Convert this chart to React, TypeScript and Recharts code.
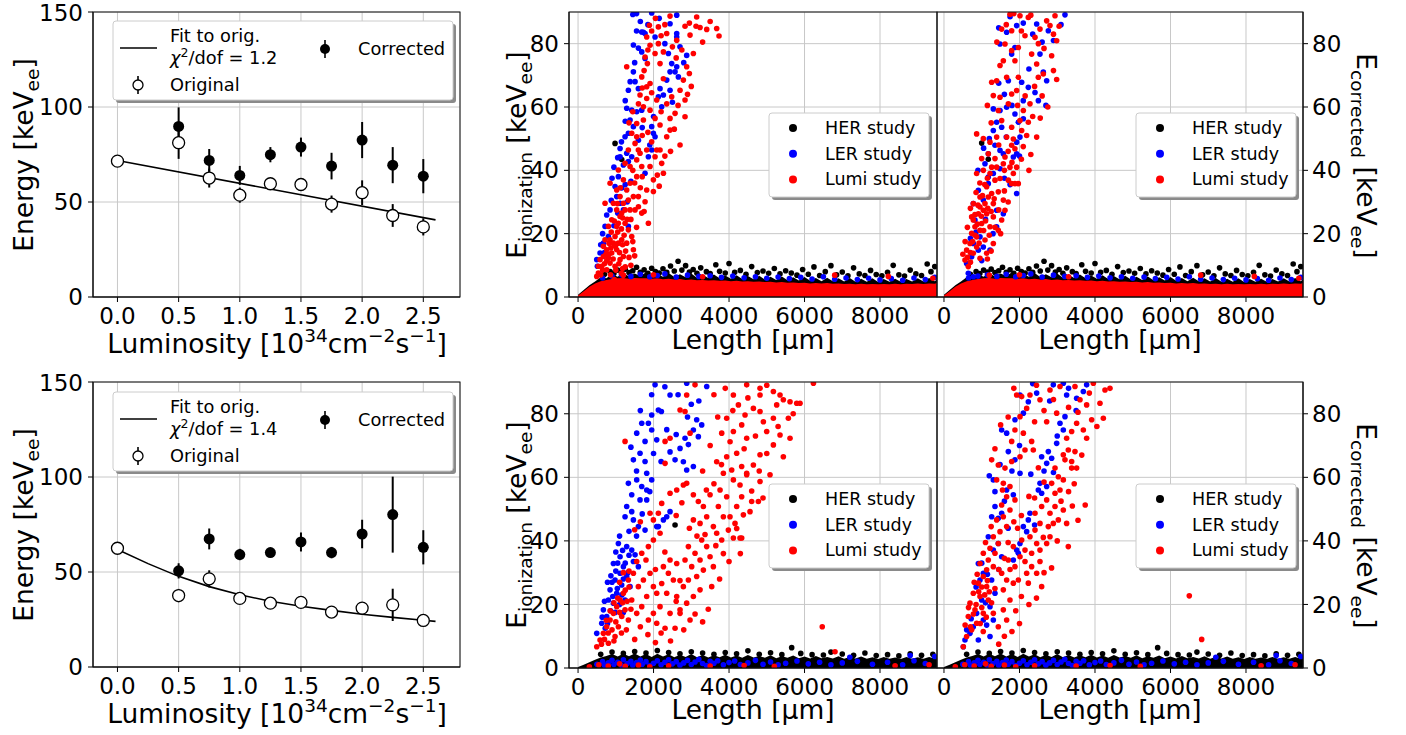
import React from "react";
import {
  ComposedChart,
  Scatter,
  Line,
  Area,
  XAxis,
  YAxis,
  CartesianGrid,
  ErrorBar,
} from "recharts";

type P = [number, number];

const FONT = "DejaVu Sans, Verdana, sans-serif";
const GRID = "#c8c8c8";
const HER = "#000000";
const LER = "#0000ff";
const LUMI = "#ff0000";

// ---- luminosity scan (left panels) ----
const lumiSteps = [0, 0.5, 0.75, 1.0, 1.25, 1.5, 1.75, 2.0, 2.25, 2.5];
const lumiTicks = [0, 0.5, 1.0, 1.5, 2.0, 2.5];
const energyTicksLeft = [0, 50, 100, 150];

const topOrig = [71.5, 81.2, 62.6, 53.6, 59.6, 59.2, 48.9, 54.9, 42.9, 36.9];
const topOrigErr = [0.8, 8.5, 5, 4, 3, 3, 4.5, 6.5, 6, 4.5];
const topCorr = [89.8, 71.9, 64.0, 74.9, 78.9, 68.9, 82.6, 69.4, 63.6];
const topCorrErr = [10, 6, 5, 4, 5, 7, 9.5, 9.5, 9];
const topFit: P[] = [[0, 71.8], [2.6, 40.6]];

const botOrig = [62.5, 37.6, 46.4, 36.1, 33.6, 34.0, 28.9, 31.0, 32.7, 24.5];
const botOrigErr = [0.8, 3.5, 4.5, 2, 1.5, 2, 2, 3, 8.5, 2];
const botCorr = [50.6, 67.4, 59.2, 60.2, 65.8, 60.2, 70.0, 80.2, 63.0];
const botCorrErr = [4, 5.5, 3, 2.5, 5, 3, 7.5, 20, 9];
const botFit: P[] = [
  [0, 61.8], [0.25, 54.4], [0.5, 47.7], [0.75, 42.3], [1.0, 38.0], [1.25, 34.6],
  [1.5, 32.0], [1.75, 29.8], [2.0, 27.8], [2.25, 26.1], [2.5, 24.6], [2.6, 24.0],
];

// ---- track length vs energy (scatter panels) ----
const lengthTicks = [0, 2000, 4000, 6000, 8000];
const energyTicks = [0, 20, 40, 60, 80];

// dense low-energy band: ragged upper edge of the packed point clouds
const bandX = [
  0, 150, 300, 450, 600, 750, 900, 1050, 1200, 1350, 1500, 1650, 1800, 1950, 2100, 2250, 2400, 2550, 2700, 2850,
  3000, 3150, 3300, 3450, 3600, 3750, 3900, 4050, 4200, 4350, 4500, 4650, 4800, 4950, 5100, 5250, 5400, 5550, 5700, 5850,
  6000, 6150, 6300, 6450, 6600, 6750, 6900, 7050, 7200, 7350, 7500, 7650, 7800, 7950, 8100, 8250, 8400, 8550, 8700, 8850,
  9000, 9150, 9300, 9450, 9510,
];
const topBandHer = [
  0.7, 2.2, 3.7, 4.9, 6.2, 5.9, 7.2, 6.4, 7.6, 6.5, 7.4, 6.6, 7.8, 6.5, 7.3, 6.4, 7.6, 6.3, 7.2, 6.2,
  7.4, 6.1, 7.0, 6.0, 7.1, 5.9, 6.8, 5.8, 6.9, 5.7, 6.6, 5.6, 6.7, 5.5, 6.4, 5.4, 6.5, 5.3, 6.2, 5.2,
  6.3, 5.1, 6.0, 5.0, 6.1, 5.0, 5.9, 4.9, 6.0, 4.8, 5.8, 4.8, 5.9, 4.7, 5.7, 4.8, 5.8, 4.8, 5.7, 4.9,
  5.9, 4.9, 6.0, 5.0, 5.6,
];
const topBandLumi = [
  0.5, 1.8, 3.2, 4.3, 5.0, 5.4, 5.7, 5.9, 6.0, 5.8, 6.0, 5.9, 5.9, 5.8, 5.9, 5.6, 5.8, 5.5, 5.7, 5.4,
  5.5, 5.3, 5.4, 5.2, 5.3, 5.1, 5.2, 5.0, 5.1, 4.9, 5.0, 4.8, 4.9, 4.7, 4.8, 4.6, 4.7, 4.5, 4.6, 4.4,
  4.5, 4.3, 4.4, 4.3, 4.4, 4.2, 4.3, 4.1, 4.2, 4.0, 4.2, 4.0, 4.1, 4.0, 4.1, 4.0, 4.2, 4.0, 4.2, 4.1,
  4.3, 4.1, 4.3, 4.2, 4.4,
];
const botBandHer = [
  0.3, 1.0, 1.8, 2.6, 3.3, 3.8, 4.4, 3.6, 4.5, 3.7, 4.6, 3.6, 4.4, 3.5, 4.5, 3.6, 4.3, 3.4, 4.2, 3.5,
  4.4, 3.4, 4.1, 3.3, 4.0, 3.4, 4.2, 3.3, 3.9, 3.2, 4.1, 3.3, 3.8, 3.2, 4.0, 3.1, 3.7, 3.2, 3.9, 3.1,
  3.6, 3.0, 3.8, 3.1, 3.5, 3.0, 3.7, 2.9, 3.5, 3.0, 3.6, 2.9, 3.4, 2.8, 3.5, 2.9, 3.3, 2.8, 3.5, 2.9,
  3.4, 2.9, 3.5, 3.0, 3.3,
];

const topFringeHer: P[] = [
  [700, 7.2], [850, 8.0], [950, 7.4], [1050, 8.5], [1150, 7.9], [1250, 8.8], [1350, 7.7], [1450, 8.3],
  [1550, 9.4], [1650, 7.8], [1750, 8.6], [1850, 7.5], [1950, 9.1], [2050, 8.0], [2150, 7.6], [2250, 8.9],
  [2350, 7.8], [2450, 9.8], [2550, 8.2], [2650, 11.3], [2750, 8.5], [2850, 9.9], [2950, 7.9], [3050, 8.7],
  [3150, 7.5], [3250, 9.2], [3400, 8.0], [3500, 7.4], [3650, 10.2], [3750, 8.1], [3900, 7.6], [4000, 10.6],
  [4150, 7.8], [4300, 8.4], [4450, 7.2], [4600, 9.6], [4750, 7.7], [4900, 8.2], [5050, 7.5], [5200, 9.0],
  [5350, 7.3], [5500, 8.3], [5650, 7.6], [5800, 6.9], [5950, 8.7], [6100, 7.2], [6250, 9.5], [6400, 6.8],
  [6550, 8.0], [6700, 9.9], [6850, 7.0], [7000, 7.9], [7150, 6.7], [7300, 9.2], [7450, 7.3], [7600, 6.8],
  [7750, 8.4], [7900, 7.1], [8050, 6.7], [8200, 7.8], [8350, 10.0], [8500, 7.0], [8650, 6.6], [8800, 8.5],
  [8950, 7.3], [9100, 6.8], [9250, 10.4], [9350, 8.0], [9450, 9.6],
];
const topFringeLer: P[] = [
  [650, 6.0], [900, 6.6], [1150, 7.0], [1400, 6.5], [1650, 7.2], [1900, 6.4], [2100, 6.8], [2300, 7.3],
  [2600, 6.3], [2900, 6.9], [3200, 6.5], [3500, 6.7], [3800, 6.2], [4100, 6.6], [4400, 6.1], [4700, 6.4],
  [5000, 5.9], [5300, 6.3], [5600, 5.8], [5900, 6.2], [6200, 5.7], [6500, 6.4], [6800, 5.6], [7100, 6.0],
  [7400, 5.5], [7700, 5.9], [8000, 5.4], [8300, 5.8], [8600, 5.3], [8900, 6.0], [9200, 5.5], [9450, 6.2],
];
const topFringeLumi: P[] = [[1200, 6.9], [2000, 7.0], [3300, 6.4], [6800, 6.9], [8220, 6.5], [9400, 5.9]];

const botFringeHer: P[] = [
  [600, 4.3], [900, 5.0], [1200, 4.6], [1500, 5.2], [1800, 4.7], [2100, 5.5], [2400, 4.9], [2700, 4.5],
  [3000, 5.1], [3300, 4.7], [3600, 4.3], [3900, 4.9], [4200, 4.5], [4500, 5.4], [4800, 4.3], [5100, 4.8],
  [5400, 4.2], [5660, 6.4], [5900, 4.6], [6200, 4.2], [6500, 4.1], [6700, 5.0], [7000, 4.4], [7300, 4.0],
  [7600, 4.7], [7900, 3.9], [8200, 4.2], [8500, 3.8], [8800, 4.5], [9100, 4.0], [9400, 4.3],
];
const botFringeLer: P[] = [
  [500, 1.2], [650, 2.0], [700, 0.9], [800, 1.6], [900, 2.4], [950, 1.1], [1050, 1.8], [1150, 0.8],
  [1200, 2.6], [1300, 1.4], [1400, 2.1], [1450, 0.9], [1550, 1.7], [1650, 2.5], [1700, 1.2], [1800, 2.0],
  [1900, 0.8], [2000, 1.5], [2100, 2.3], [2200, 1.0], [2300, 1.8], [2400, 2.6], [2500, 1.3], [2600, 2.0],
  [2700, 0.9], [2800, 1.6], [2900, 2.4], [3000, 1.1], [3100, 1.9], [3200, 2.7], [3300, 1.4], [3400, 0.8],
  [3500, 2.1], [3600, 1.5], [3700, 2.3], [3850, 1.0], [4000, 1.7], [4150, 2.2], [4300, 1.1], [4500, 1.6],
  [4700, 2.4], [4900, 1.2], [5100, 1.9], [5300, 1.0], [5500, 1.5], [5800, 2.2], [6100, 1.3], [6400, 1.8],
  [6700, 1.0], [7000, 1.6], [7200, 3.4], [7400, 2.1], [7800, 1.2], [8200, 1.8], [8600, 1.0], [8800, 3.9],
  [8900, 2.3], [9200, 1.4], [9450, 3.6],
];
const botFringeLumi: P[] = [
  [300, 0.4], [550, 1.0], [800, 0.6], [1100, 1.3], [1250, 0.5], [1600, 0.9], [1900, 0.4], [2400, 0.7],
  [3500, 0.6], [4400, 0.8], [5200, 0.5], [8400, 0.7], [9300, 1.0],
];

// top middle: E_ionization, first study set
const tmHer: P[] = [[980, 48.5], [1157, 43.4]];
const tmLer: P[] = [
  [1686, 83.7], [1775, 83.2], [1951, 89.7], [2437, 86.3], [2614, 89.0], [2614, 83.2], [2878, 76.3], [2614, 82.1],
  [1466, 79.6], [1598, 78.6], [1687, 77.4], [1775, 75.3], [2040, 82.1], [2393, 76.9], [2481, 73.7], [2614, 72.7],
  [2570, 71.1], [2658, 69.5], [2437, 71.1], [1466, 71.1], [1510, 68.0], [1598, 65.8], [1333, 65.3], [2172, 65.8],
  [2261, 63.8], [2437, 65.3], [2128, 63.2], [1289, 59.6], [1422, 59.0], [1554, 58.5], [1687, 59.0], [1378, 55.9],
  [1466, 53.8], [1333, 51.7], [1245, 50.6], [1996, 51.7], [2040, 50.6], [1951, 53.8], [2216, 60.1], [1113, 46.9],
  [1289, 45.4], [1422, 44.3], [1333, 42.8], [1201, 41.7], [1863, 44.3], [1951, 46.4], [1068, 38.0], [980, 34.9],
  [1157, 34.4], [1024, 31.7], [1113, 29.6], [1201, 27.5], [848, 27.5], [759, 25.9], [715, 22.3], [1333, 22.3],
  [804, 19.1], [671, 17.0], [583, 13.9], [495, 11.8], [512, 9.7], [1775, 39.1], [1113, 44.3], [1450, 89.2],
  [1550, 89.5], [1731, 83.6], [1250, 62.0], [1380, 68.0], [1500, 74.0], [1550, 84.0], [1650, 87.0], [1850, 86.0],
  [2150, 88.0], [2300, 80.0], [2350, 68.5], [2700, 79.0], [2800, 74.0], [2500, 61.5], [2000, 57.0], [1900, 48.0],
  [1600, 49.5], [1700, 53.5], [1250, 55.5], [1150, 49.0], [1050, 44.0], [950, 41.0], [900, 37.5], [1250, 35.5],
  [1300, 30.0], [1050, 26.5], [950, 22.5], [880, 30.5], [650, 20.0], [600, 16.5], [700, 14.0], [1400, 36.5],
];
const tmLumi: P[] = [
  [1890, 85.8], [2128, 85.3], [2349, 83.2], [2437, 88.7], [2834, 85.5], [2967, 82.7], [3126, 85.5], [3232, 85.1],
  [3409, 84.5], [3673, 84.8], [3735, 82.4], [3143, 88.4], [1775, 75.8], [1907, 79.5], [2040, 76.9], [2172, 73.7],
  [1837, 73.7], [1687, 69.5], [1907, 67.4], [2878, 72.7], [2949, 70.6], [3055, 76.9], [2790, 68.5], [2834, 62.2],
  [2481, 63.2], [2702, 65.3], [2261, 68.9], [1819, 62.7], [1907, 59.0], [1731, 55.9], [2040, 56.4], [2172, 54.3],
  [2437, 56.4], [2570, 58.0], [2834, 56.9], [2349, 50.6], [2437, 52.7], [2702, 48.0], [2172, 46.4], [2216, 42.2],
  [2040, 44.3], [1510, 48.5], [1642, 45.4], [1907, 41.2], [2261, 39.1], [1996, 37.0], [1819, 33.8], [1996, 33.3],
  [1775, 30.1], [1598, 31.7], [1687, 26.5], [1863, 23.3], [1510, 27.5], [1378, 35.9], [1245, 42.2], [1289, 33.8],
  [1201, 29.6], [1113, 31.7], [1024, 27.5], [848, 35.9], [715, 29.6], [892, 24.4], [1024, 22.3], [1245, 23.3],
  [1422, 19.1], [1466, 14.9], [1333, 21.2], [1157, 18.1], [936, 17.0], [759, 14.9], [671, 12.8], [848, 10.7],
  [1024, 14.9], [1201, 12.8], [627, 9.7], [539, 7.6], [759, 8.6], [980, 9.7], [1378, 27.5], [1113, 25.4],
  [1201, 37.0], [1068, 40.1], [1554, 43.3], [1422, 51.7], [1554, 54.8], [1731, 60.1], [1642, 63.8], [1819, 66.4],
  [2084, 62.2], [2128, 80.0], [2261, 77.4], [2614, 81.1], [1819, 82.1], [1289, 72.7], [1024, 33.8], [936, 29.6],
  [1333, 46.4], [1687, 41.2], [1819, 46.4], [2084, 46.4], [804, 22.3], [715, 18.1], [848, 18.1], [980, 19.1],
  [1068, 17.0], [892, 13.9], [671, 16.0], [583, 11.8], [804, 12.3], [1113, 11.8], [1289, 17.0], [1157, 26.5],
  [1068, 23.3], [1245, 27.5], [1333, 30.6], [1466, 31.7], [1554, 38.0], [1378, 41.2], [1598, 46.4], [1554, 50.6],
  [539, 9.7], [495, 6.5], [700, 10.5], [760, 11.5], [820, 13.5], [870, 15.5], [930, 12.0], [990, 16.0],
  [1050, 20.5], [1100, 14.0], [1150, 21.5], [1180, 16.5], [1220, 19.5], [1260, 14.5], [1300, 24.5], [960, 24.0],
  [1040, 29.5], [1120, 34.5], [1180, 25.0], [880, 20.5], [820, 17.0], [740, 13.5], [650, 8.5], [600, 7.0],
  [1000, 8.5], [1080, 10.5], [1180, 9.0], [1350, 55.0], [1450, 58.5], [1600, 61.0], [1700, 66.0], [1750, 71.5],
  [1850, 78.0], [1950, 84.0], [2050, 88.0], [2200, 82.5], [2300, 86.0], [2500, 79.0], [2600, 75.5], [2750, 78.0],
  [2950, 86.5], [3300, 80.5], [3500, 87.0], [2350, 61.0], [2550, 53.0], [2650, 60.5], [2900, 64.0], [3000, 66.5],
  [2200, 58.5], [1950, 64.5], [1700, 51.0], [1850, 52.0], [1950, 49.0], [2300, 44.5], [2450, 46.0], [2100, 38.5],
  [2150, 35.0], [1700, 38.0], [1650, 34.5], [1500, 36.0], [1450, 40.0], [1400, 24.5], [1550, 22.0], [1600, 28.5],
  [1750, 27.0], [1450, 17.5], [1350, 12.5], [1250, 9.5], [1150, 7.5], [1400, 10.0], [960, 5.5], [860, 7.0],
  [1500, 13.0],
];

// top right: E_corrected, first study set
const trHer: P[] = [[998, 48.6], [1174, 43.5]];
const trLer: P[] = [
  [1660, 83.6], [1925, 85.7], [2455, 86.2], [2764, 84.1], [3205, 89.1], [1484, 79.9], [1793, 76.7], [1880, 78.8],
  [2543, 76.7], [2631, 71.0], [2720, 68.3], [1705, 68.3], [2058, 67.8], [2234, 66.2], [2411, 64.6], [1307, 59.4],
  [1484, 58.9], [1660, 59.9], [1880, 57.8], [1969, 55.2], [2102, 56.3], [1395, 55.2], [1528, 53.6], [1307, 52.6],
  [1925, 48.9], [2013, 50.5], [1351, 47.9], [1484, 46.3], [1572, 45.2], [1837, 44.2], [1925, 45.2], [1174, 45.2],
  [1086, 42.1], [1174, 37.9], [1307, 39.0], [1484, 40.5], [1925, 32.7], [1174, 35.8], [910, 33.7], [777, 29.5],
  [1042, 30.6], [1395, 27.4], [1572, 26.3], [1395, 22.2], [821, 24.3], [954, 19.0], [777, 16.9], [1042, 15.8],
  [733, 12.7], [600, 10.6], [644, 7.5], [777, 6.4], [910, 14.8], [1219, 14.8], [1450, 85.0], [1750, 88.5],
  [2100, 86.5], [2350, 83.0], [2600, 80.5], [2900, 81.0], [3100, 86.0], [2250, 72.0], [2500, 62.0], [2700, 60.5],
  [2100, 62.0], [1800, 60.5], [1600, 64.0], [1450, 67.5], [1200, 50.0], [1650, 50.5], [2000, 44.5], [1750, 35.5],
  [1600, 37.5], [1050, 47.0], [900, 40.0], [1100, 24.5], [1300, 20.0], [850, 20.5], [700, 18.5], [1000, 11.5],
];
const trLumi: P[] = [
  [1748, 89.3], [2013, 88.8], [2234, 88.3], [1528, 84.6], [1793, 84.1], [2146, 82.5], [2411, 82.0], [2720, 87.2],
  [2808, 85.7], [2941, 88.8], [2543, 84.6], [2985, 80.9], [1616, 79.9], [1793, 77.8], [1969, 78.8], [1880, 74.6],
  [1572, 74.6], [1484, 73.1], [1660, 69.4], [1969, 69.4], [1395, 68.3], [1263, 67.8], [2322, 76.7], [2455, 73.6],
  [2499, 69.4], [2631, 70.4], [2852, 76.2], [2985, 68.7], [1307, 63.6], [1484, 63.1], [1793, 64.1], [1925, 65.2],
  [2278, 61.0], [2102, 58.9], [1705, 61.0], [1439, 58.9], [1528, 55.7], [2013, 55.7], [2234, 55.2], [1793, 53.6],
  [2058, 52.6], [2455, 50.5], [2190, 51.0], [865, 51.5], [1042, 50.0], [1219, 48.9], [1395, 50.5], [1793, 47.9],
  [1880, 46.8], [1174, 45.2], [1351, 43.7], [1572, 42.1], [1748, 41.0], [1616, 44.2], [1925, 41.0], [1837, 39.0],
  [1880, 35.8], [1969, 35.8], [865, 39.0], [1042, 40.0], [1219, 39.0], [1351, 36.9], [1484, 37.4], [1705, 36.9],
  [1130, 34.8], [1263, 32.7], [1439, 33.2], [954, 31.6], [777, 29.5], [1086, 29.5], [1307, 29.5], [1572, 30.6],
  [1616, 27.4], [910, 26.3], [1130, 26.3], [1307, 25.3], [777, 24.3], [998, 23.2], [1219, 22.2], [1439, 21.1],
  [733, 20.1], [865, 19.0], [1086, 18.0], [1307, 16.9], [689, 16.9], [600, 14.8], [777, 13.8], [954, 12.2],
  [556, 11.7], [644, 9.6], [1130, 13.8], [865, 15.8], [954, 21.1], [821, 22.2], [1174, 31.6], [954, 28.4],
  [733, 25.3], [1042, 27.4], [1528, 24.3], [1793, 35.8], [1395, 41.0], [1263, 41.0], [998, 43.7], [1660, 50.5],
  [1837, 49.9], [620, 12.5], [700, 14.0], [760, 17.5], [820, 19.5], [880, 23.0], [930, 17.0], [990, 25.5],
  [1050, 21.0], [1100, 24.0], [1160, 28.0], [1200, 19.5], [1250, 27.0], [1020, 32.0], [900, 29.0], [820, 26.0],
  [700, 11.0], [1150, 37.5], [1330, 31.0], [1080, 35.5], [1400, 80.5], [1650, 86.0], [1850, 89.5], [2050, 84.0],
  [2300, 89.0], [2500, 80.0], [2650, 78.5], [2900, 83.0], [3050, 85.5], [2400, 66.5], [2600, 63.5], [2750, 60.0],
  [2900, 71.5], [2150, 63.5], [2350, 57.0], [2550, 56.5], [1950, 60.5], [2100, 47.5], [2300, 45.0], [2250, 40.0],
  [2050, 43.5], [1700, 46.0], [1450, 48.0], [1250, 55.0], [1150, 60.5], [1600, 40.0], [1700, 30.0], [1450, 27.5],
  [1350, 22.0], [1150, 12.0], [1250, 14.5], [1500, 20.0], [950, 36.0], [850, 33.0], [700, 28.0], [620, 22.0],
  [560, 17.5], [500, 13.5], [1600, 33.5], [1800, 42.5],
];

// bottom middle: E_ionization, second study set
const bmHer: P[] = [[2570, 45.0]];
const bmLer: P[] = [
  [2040, 89.1], [2437, 85.9], [2879, 89.6], [3409, 88.6], [2128, 81.2], [1951, 79.6], [2208, 80.7], [1863, 77.0],
  [1687, 77.0], [1951, 74.9], [1554, 73.9], [1775, 71.3], [2084, 71.8], [3143, 78.1], [3055, 74.9], [2834, 72.3],
  [2702, 69.1], [2923, 70.3], [3187, 72.8], [3276, 76.5], [2437, 68.0], [2570, 65.5], [2790, 64.9], [2878, 62.3],
  [3055, 63.4], [1642, 67.6], [1775, 65.0], [1466, 65.5], [1819, 61.3], [1333, 58.1], [1554, 59.2], [1687, 57.1],
  [1819, 56.0], [1951, 59.2], [1422, 54.5], [1642, 52.9], [1819, 52.9], [1289, 50.8], [1422, 49.2], [1245, 47.6],
  [1466, 46.6], [2437, 49.2], [2349, 47.6], [2261, 46.6], [2128, 44.5], [1598, 44.5], [1775, 43.4], [1068, 39.2],
  [1289, 38.2], [1422, 37.1], [1510, 35.6], [1466, 33.5], [1113, 35.0], [936, 32.9], [1201, 31.9], [1113, 29.8],
  [1289, 28.8], [980, 27.7], [1157, 26.1], [848, 24.6], [1024, 23.5], [804, 21.4], [936, 20.4], [671, 18.3],
  [759, 16.2], [627, 14.1], [495, 10.9], [1378, 25.6], [1245, 21.4], [1598, 31.9], [2084, 44.5], [860, 18.0],
  [920, 22.5], [980, 17.5], [1040, 25.0], [1100, 20.0], [1160, 23.0], [1200, 28.0], [1250, 33.0], [1320, 30.0],
  [1350, 35.5], [1180, 37.0], [720, 12.5], [780, 14.0], [900, 27.0], [1000, 30.5], [1950, 86.0], [2300, 88.5],
  [2650, 86.0], [3000, 83.0], [3200, 84.0], [2900, 79.0], [2600, 73.5], [2350, 75.0], [2200, 65.0], [2000, 67.5],
  [1900, 55.5], [1700, 48.5], [1550, 41.5], [1350, 43.0], [1550, 62.0], [1400, 69.5], [1650, 81.0], [1100, 41.5],
  [1000, 36.5], [870, 29.0], [780, 27.0], [700, 21.0], [640, 16.0], [1200, 17.5], [1050, 33.0],
];
const bmLumi: P[] = [
  [1245, 71.3], [2305, 71.3], [2878, 85.9], [3099, 89.1], [2702, 81.2], [2834, 80.7], [2967, 73.9], [2437, 72.3],
  [2305, 64.4], [2614, 56.0], [2790, 57.6], [2878, 58.1], [2437, 55.0], [2216, 51.8], [2128, 48.7], [1996, 46.6],
  [1907, 48.7], [2172, 42.4], [1996, 40.3], [1863, 38.2], [1687, 36.1], [1554, 33.5], [1466, 29.8], [1333, 27.7],
  [1201, 23.5], [1113, 21.4], [1024, 19.3], [936, 17.2], [848, 15.1], [759, 13.0], [671, 10.9], [583, 8.8],
  [495, 6.7], [1245, 18.3], [1333, 15.1], [1068, 13.0], [980, 9.9], [804, 7.8], [1157, 16.2], [1422, 21.4],
  [1554, 17.2], [1687, 19.3], [1819, 22.5], [1598, 25.6], [1731, 27.7], [1907, 29.8], [1996, 25.6], [2084, 23.5],
  [2216, 26.6], [2393, 29.8], [2261, 31.9], [2437, 34.0], [2614, 32.9], [2525, 27.7], [2349, 23.5], [2172, 19.3],
  [1996, 17.2], [1863, 15.1], [2084, 14.1], [2305, 12.5], [2437, 17.2], [2702, 18.3], [2614, 22.5], [2790, 25.6],
  [2923, 27.7], [3011, 31.9], [2834, 34.0], [2923, 38.2], [3099, 36.1], [3232, 34.0], [3320, 30.8], [3143, 28.8],
  [3408, 38.2], [3276, 40.3], [3497, 35.0], [3585, 31.9], [3541, 25.6], [3232, 24.6], [3055, 22.5], [2878, 20.4],
  [2702, 17.2], [2967, 15.1], [2570, 12.5], [3055, 54.5], [3187, 52.4], [3320, 50.8], [3055, 46.6], [3232, 45.5],
  [3408, 47.6], [3585, 44.5], [3673, 42.4], [3806, 40.3], [3982, 43.4], [3850, 47.6], [3717, 50.8], [3938, 53.9],
  [3762, 56.0], [4026, 47.6], [4159, 45.5], [4291, 40.9], [4203, 50.8], [4335, 53.9], [4115, 59.2], [3850, 61.3],
  [3673, 64.9], [3938, 66.5], [4071, 62.3], [4203, 67.6], [4335, 63.4], [4468, 61.3], [4600, 55.7], [3497, 54.5],
  [3364, 42.0], [4027, 71.2], [4115, 74.4], [4336, 76.5], [4468, 72.3], [4424, 79.6], [4645, 81.7], [4821, 80.7],
  [4910, 77.5], [4998, 74.4], [5175, 78.6], [5263, 82.8], [5439, 84.4], [5616, 83.8], [5793, 83.3], [5881, 83.3],
  [5572, 78.6], [5351, 73.3], [5175, 70.2], [4821, 67.1], [4645, 63.9], [4468, 60.8], [4291, 57.6], [4600, 52.4],
  [4777, 52.4], [4556, 49.2], [4821, 58.7], [5086, 60.8], [4380, 48.2], [4203, 43.9], [4115, 40.9], [4336, 40.9],
  [4821, 88.0], [4468, 89.1], [4115, 85.9], [4248, 82.8], [3938, 78.6], [3806, 73.9], [5616, 72.3], [5439, 66.5],
  [6236, 89.6], [4821, 85.9], [5175, 87.0], [5351, 85.9], [6470, 13.0], [6808, 5.1], [900, 12.0], [1000, 14.5],
  [1100, 17.5], [1180, 20.5], [1250, 24.5], [1300, 21.0], [1050, 22.0], [950, 8.5], [1150, 11.0], [1350, 25.5],
  [1400, 18.5], [700, 9.0], [800, 11.0], [620, 7.5], [1280, 12.0], [2600, 48.0], [2750, 52.0], [2950, 44.0],
  [3150, 41.5], [3400, 56.0], [3600, 58.0], [3800, 64.0], [3300, 62.0], [3500, 70.0], [3700, 79.0], [3600, 86.0],
  [3900, 88.0], [4100, 81.0], [4500, 85.0], [5000, 89.0], [5300, 76.0], [5700, 80.0], [5000, 67.5], [4700, 73.0],
  [4400, 69.0], [4800, 62.0], [4300, 36.0], [4000, 33.5], [3750, 28.0], [3850, 36.0], [3450, 18.5], [3100, 17.0],
  [2800, 12.0], [3300, 14.5], [2450, 8.5], [2600, 21.0], [2300, 36.5], [2050, 31.0], [1800, 34.0], [1650, 46.0],
  [1500, 43.5], [1350, 30.5], [1200, 30.0], [1100, 27.0], [950, 20.5], [850, 18.0], [750, 15.0], [1500, 9.0],
  [1650, 13.0], [1850, 10.5], [2050, 8.0], [2200, 11.0], [2700, 27.5], [3650, 38.5], [4900, 53.5],
];

// bottom right: E_corrected, second study set
const brHer: P[] = [];
const brLer: P[] = [
  [2013, 85.9], [2234, 83.8], [2455, 86.5], [2896, 89.1], [3161, 89.6], [3249, 85.9], [3514, 84.9], [3691, 87.0],
  [3779, 89.1], [3205, 79.1], [3073, 77.0], [3161, 74.9], [2985, 70.7], [2764, 68.1], [2587, 66.5], [2720, 64.4],
  [2852, 66.0], [2102, 80.2], [1881, 78.1], [1660, 73.9], [1528, 74.9], [1704, 68.1], [1881, 65.5], [2014, 61.3],
  [1484, 64.0], [1307, 59.2], [1660, 56.0], [1837, 54.5], [2543, 58.1], [2499, 56.0], [2720, 57.1], [2587, 55.0],
  [1351, 50.8], [1528, 48.7], [1439, 47.1], [1263, 47.6], [2278, 48.7], [2234, 46.6], [2102, 44.5], [2190, 42.9],
  [2013, 39.2], [1925, 37.1], [1969, 36.1], [1837, 34.0], [1439, 39.2], [1307, 37.1], [1174, 41.3], [1528, 35.0],
  [910, 32.9], [1042, 29.8], [954, 27.7], [1263, 27.7], [1351, 23.5], [998, 21.4], [1219, 19.3], [865, 17.2],
  [1042, 15.1], [777, 13.0], [689, 10.9], [556, 8.8], [512, 6.7], [1130, 13.5], [1307, 15.1], [1219, 9.9],
  [910, 8.8], [2350, 89.5], [2800, 84.0], [3300, 88.0], [3500, 81.0], [3000, 73.0], [2900, 61.5], [2650, 62.0],
  [2300, 61.0], [2000, 70.0], [1800, 62.0], [1600, 52.5], [1700, 44.0], [2400, 45.0], [1450, 31.0], [1150, 29.5],
  [1000, 33.0], [1100, 20.5], [850, 25.5], [720, 15.5], [600, 12.0], [1350, 55.5], [1200, 60.5],
];
const brLumi: P[] = [
  [2057, 85.4], [2278, 85.9], [2543, 84.4], [2808, 87.5], [3073, 88.6], [3470, 88.6], [3603, 84.4], [3779, 82.8],
  [3956, 89.6], [4265, 87.5], [4397, 88.0], [4132, 83.3], [3912, 78.1], [4221, 78.6], [3691, 74.9], [3514, 77.0],
  [3382, 74.4], [3249, 72.3], [3779, 72.3], [2985, 80.2], [2720, 77.5], [1925, 85.9], [2190, 81.7], [2014, 79.1],
  [1880, 74.9], [1793, 71.3], [2102, 73.9], [2322, 71.3], [2366, 68.6], [2146, 68.6], [2014, 66.5], [1793, 65.0],
  [1263, 65.5], [1439, 63.9], [1616, 62.9], [1395, 59.2], [1572, 58.1], [1748, 57.1], [1660, 53.9], [1881, 52.9],
  [1528, 51.3], [1748, 49.7], [1572, 47.6], [1395, 46.6], [1660, 44.5], [1484, 42.9], [1307, 41.3], [1439, 39.2],
  [1219, 37.7], [1351, 36.1], [1174, 34.0], [1042, 36.1], [954, 32.9], [1130, 30.9], [1307, 31.9], [1042, 28.8],
  [910, 26.7], [1130, 25.6], [777, 23.5], [954, 22.5], [1174, 21.4], [689, 20.4], [821, 18.3], [1042, 17.2],
  [644, 16.2], [865, 14.1], [733, 12.0], [600, 9.9], [512, 6.7], [1307, 17.2], [1572, 18.3], [1660, 15.1],
  [1439, 13.0], [1748, 21.4], [1572, 24.6], [1837, 26.7], [1969, 27.7], [1881, 31.9], [2014, 35.0], [2146, 37.1],
  [2058, 40.3], [1837, 38.2], [1704, 34.0], [1528, 29.8], [1660, 27.7], [2278, 41.3], [2411, 43.4], [2543, 45.5],
  [2631, 41.1], [2720, 39.2], [2455, 39.2], [2322, 36.1], [2543, 37.1], [2764, 44.5], [2808, 48.7], [2587, 50.8],
  [2411, 48.7], [2720, 52.9], [2941, 55.0], [2852, 58.1], [3029, 60.2], [3161, 59.2], [3073, 56.0], [2941, 50.8],
  [2896, 45.5], [2808, 41.3], [3029, 46.6], [3161, 49.7], [3249, 45.5], [3293, 38.2], [2543, 33.5], [2322, 31.9],
  [2190, 29.8], [2234, 26.7], [2587, 25.6], [2455, 29.8], [2146, 33.5], [3741, 51.3], [2941, 62.9], [3205, 65.5],
  [3382, 62.9], [3514, 62.9], [3293, 68.6], [3161, 67.1], [3470, 68.1], [3382, 65.0], [6498, 22.7], [6826, 9.0],
  [850, 20.0], [920, 24.0], [1000, 19.0], [1080, 23.0], [1150, 27.5], [1200, 24.0], [960, 14.0], [1040, 11.5],
  [1120, 16.0], [1260, 20.5], [1350, 25.0], [780, 17.0], [700, 13.0], [2450, 89.0], [2650, 81.0], [2900, 84.5],
  [3300, 82.0], [3550, 80.5], [3850, 86.5], [4050, 76.0], [3650, 67.0], [3450, 58.0], [3300, 55.5], [3100, 52.5],
  [3400, 51.0], [3550, 46.5], [3000, 40.0], [2650, 30.0], [2850, 31.5], [2450, 22.0], [2250, 20.0], [2050, 22.5],
  [1900, 18.0], [1800, 11.5], [1600, 10.0], [1450, 7.5], [2000, 14.0], [1700, 39.5], [1550, 56.0], [1350, 69.0],
  [1500, 76.5], [1700, 79.0], [1850, 88.0], [2400, 77.5], [2500, 63.0], [2650, 58.5], [2250, 54.0], [2400, 53.5],
  [2050, 48.0], [1950, 44.0], [1250, 44.5], [1100, 39.5], [1000, 25.5], [880, 29.5], [800, 27.0], [650, 19.0],
  [560, 13.5], [1450, 31.0], [1600, 34.5], [1750, 31.0], [1850, 46.0],
];

const toPts = (arr: P[]) => arr.map(([x, y]) => ({ x, y }));

const dot = (fill: string, r = 2.8) => (p: any) =>
  p.cx == null ? <g /> : <circle cx={p.cx} cy={p.cy} r={r} fill={fill} />;

const openMarker = (p: any) =>
  p.cx == null ? <g /> : <circle cx={p.cx} cy={p.cy} r={6} fill="#fff" stroke="#000" strokeWidth={1.3} />;
const filledMarker = (p: any) =>
  p.cx == null ? <g /> : <circle cx={p.cx} cy={p.cy} r={5.5} fill="#000" />;

const tickStyle = { fill: "#000", fontSize: 23, fontFamily: FONT };

function LumiPanel({ top, orig, origErr, corr, corrErr, fit }: {
  top: number; orig: number[]; origErr: number[]; corr: number[]; corrErr: number[]; fit: P[];
}) {
  const origData = lumiSteps.map((x, i) => ({ x, y: orig[i], err: origErr[i] }));
  const corrData = lumiSteps.slice(1).map((x, i) => ({ x, y: corr[i], err: corrErr[i] }));
  return (
    <div style={{ position: "absolute", left: 0, top }}>
      <ComposedChart width={470} height={340} margin={{ top: 12, right: 10, left: 0, bottom: 0 }}>
        <CartesianGrid stroke={GRID} />
        <XAxis
          type="number" dataKey="x" domain={[-0.2, 2.8]} ticks={lumiTicks} allowDataOverflow
          tickFormatter={(v: number) => v.toFixed(1)} height={43} tick={tickStyle}
          tickSize={5} tickMargin={6} tickLine={{ stroke: "#000" }} axisLine={{ stroke: "#000" }}
        />
        <YAxis
          type="number" dataKey="y" domain={[0, 150]} ticks={energyTicksLeft} allowDataOverflow
          width={93} tick={tickStyle} tickSize={5} tickMargin={5}
          tickLine={{ stroke: "#000" }} axisLine={{ stroke: "#000" }}
        />
        <Line data={toPts(fit)} dataKey="y" type="linear" stroke="#000" strokeWidth={1.6} dot={false} activeDot={false} isAnimationActive={false} />
        <Scatter data={origData} shape={openMarker} isAnimationActive={false}>
          <ErrorBar dataKey="err" direction="y" width={0} stroke="#000" strokeWidth={2} isAnimationActive={false} />
        </Scatter>
        <Scatter data={corrData} shape={filledMarker} isAnimationActive={false}>
          <ErrorBar dataKey="err" direction="y" width={0} stroke="#000" strokeWidth={2} isAnimationActive={false} />
        </Scatter>
      </ComposedChart>
    </div>
  );
}

function StudyPanel({ left, top, height, side, xDomain, band, areas, her, ler, lumi }: {
  left: number; top: number; height: number; side: "left" | "right"; xDomain: [number, number];
  band: any[]; areas: { key: string; color: string }[]; her: P[]; ler: P[]; lumi: P[];
}) {
  const width = side === "left" ? 467 : 426;
  return (
    <div style={{ position: "absolute", left, top }}>
      <ComposedChart width={width} height={height} data={band} margin={{ top: 12, right: 0, left: 0, bottom: 0 }}>
        <CartesianGrid stroke={GRID} />
        <XAxis
          type="number" dataKey="x" domain={xDomain} ticks={lengthTicks} allowDataOverflow
          height={43} tick={tickStyle} tickSize={5} tickMargin={6}
          tickLine={{ stroke: "#000" }} axisLine={{ stroke: "#000" }}
        />
        <YAxis
          type="number" dataKey="y" orientation={side} domain={[0, 90]} ticks={energyTicks} allowDataOverflow
          width={side === "left" ? 99 : 60} tick={tickStyle} tickSize={5} tickMargin={side === "left" ? 5 : 4}
          tickLine={{ stroke: "#000" }} axisLine={{ stroke: "#000" }}
        />
        {areas.map((a) => (
          <Area
            key={a.key} dataKey={a.key} type="linear" stroke="none" fill={a.color} fillOpacity={1}
            dot={false} activeDot={false} isAnimationActive={false}
          />
        ))}
        <Scatter data={toPts(her)} shape={dot(HER)} isAnimationActive={false} />
        <Scatter data={toPts(ler)} shape={dot(LER)} isAnimationActive={false} />
        <Scatter data={toPts(lumi)} shape={dot(LUMI)} isAnimationActive={false} />
      </ComposedChart>
    </div>
  );
}

function LumiLegend({ dy, chi }: { dy: number; chi: string }) {
  return (
    <g transform={`translate(0 ${dy})`}>
      <rect x={116} y={24} width={340} height={79} rx={3} fill="#8a8a8a" />
      <rect x={113} y={21} width={340} height={79} rx={3} fill="#fff" stroke="#cccccc" />
      <line x1={120} x2={157} y1={48} y2={48} stroke="#000" strokeWidth={1.6} />
      <text x={170} y={42} fontSize={17.8}>Fit to orig.</text>
      <text x={170} y={64} fontSize={17.8}>
        <tspan fontStyle="italic">χ</tspan>
        <tspan dy={-7} fontSize={12.5}>2</tspan>
        <tspan dy={7}>/dof = {chi}</tspan>
      </text>
      <line x1={138} x2={138} y1={76} y2={94} stroke="#000" strokeWidth={1.6} />
      <circle cx={138} cy={85} r={5} fill="#fff" stroke="#000" strokeWidth={1.3} />
      <text x={170} y={91} fontSize={17.8}>Original</text>
      <line x1={325} x2={325} y1={40} y2={58} stroke="#000" strokeWidth={1.6} />
      <circle cx={325} cy={49} r={5} fill="#000" />
      <text x={358} y={55} fontSize={17.8}>Corrected</text>
    </g>
  );
}

const studyNames = ["HER study", "LER study", "Lumi study"];
const studyColors = [HER, LER, LUMI];

function StudyLegend({ x, y }: { x: number; y: number }) {
  return (
    <g>
      <rect x={x + 3} y={y + 3} width={160} height={84} rx={3} fill="#8a8a8a" />
      <rect x={x} y={y} width={160} height={84} rx={3} fill="#fff" stroke="#cccccc" />
      {studyNames.map((name, i) => (
        <g key={name}>
          <circle cx={x + 24} cy={y + 15 + i * 25.7} r={4} fill={studyColors[i]} />
          <text x={x + 56} y={y + 21 + i * 25.7} fontSize={17.5}>{name}</text>
        </g>
      ))}
    </g>
  );
}

function Overlay() {
  const spines = [
    [93, 12, 367, 285], [93, 382, 367, 285],
    [569, 12, 368, 285], [937, 12, 366, 285],
    [569, 382, 368, 286], [937, 382, 366, 286],
  ];
  return (
    <svg
      width={1406} height={735} fontFamily={FONT}
      style={{ position: "absolute", left: 0, top: 0, pointerEvents: "none" }}
    >
      {spines.map(([x, y, w, h], i) => (
        <rect key={i} x={x} y={y} width={w} height={h} fill="none" stroke="#111" strokeWidth={1} />
      ))}

      {[0, 370].map((o) => (
        <g key={o}>
          <text x={33} y={155 + o} fontSize={26.5} textAnchor="middle" transform={`rotate(-90 33 ${155 + o})`}>
            Energy [keV<tspan dy={6} fontSize={18.5}>ee</tspan><tspan dy={-6}>]</tspan>
          </text>
          <text x={277} y={353 + o} fontSize={26.5} textAnchor="middle">
            Luminosity [10<tspan dy={-11} fontSize={18.5}>34</tspan>
            <tspan dy={11}>cm</tspan><tspan dy={-11} fontSize={18.5}>−2</tspan>
            <tspan dy={11}>s</tspan><tspan dy={-11} fontSize={18.5}>−1</tspan>
            <tspan dy={11}>]</tspan>
          </text>
          <text x={753} y={349 + o} fontSize={26.5} textAnchor="middle">Length [µm]</text>
          <text x={1120} y={349 + o} fontSize={26.5} textAnchor="middle">Length [µm]</text>
          <text x={526} y={155 + o} fontSize={26.5} textAnchor="middle" transform={`rotate(-90 526 ${155 + o})`}>
            E<tspan dy={6} fontSize={18.5}>ionization</tspan><tspan dy={-6}> [keV</tspan>
            <tspan dy={6} fontSize={18.5}>ee</tspan><tspan dy={-6}>]</tspan>
          </text>
          <text x={1357} y={156 + o} fontSize={26.5} textAnchor="middle" transform={`rotate(90 1357 ${156 + o})`}>
            E<tspan dy={6} fontSize={18.5}>corrected</tspan><tspan dy={-6}> [keV</tspan>
            <tspan dy={6} fontSize={18.5}>ee</tspan><tspan dy={-6}>]</tspan>
          </text>
        </g>
      ))}

      <LumiLegend dy={0} chi="1.2" />
      <LumiLegend dy={371} chi="1.4" />
      <StudyLegend x={769} y={113} />
      <StudyLegend x={1136} y={113} />
      <StudyLegend x={769} y={484} />
      <StudyLegend x={1136} y={484} />
    </svg>
  );
}

export default function App() {
  const topBand = bandX.map((x, i) => ({ x, her: topBandHer[i], lumi: topBandLumi[i] }));
  const botBand = bandX.map((x, i) => ({ x, her: botBandHer[i] }));
  const topAreas = [{ key: "her", color: HER }, { key: "lumi", color: LUMI }];
  const botAreas = [{ key: "her", color: HER }];
  return (
    <div style={{ position: "absolute", left: 0, top: 0, width: 1406, height: 735, background: "#fff", fontFamily: FONT }}>
      <LumiPanel top={0} orig={topOrig} origErr={topOrigErr} corr={topCorr} corrErr={topCorrErr} fit={topFit} />
      <LumiPanel top={370} orig={botOrig} origErr={botOrigErr} corr={botCorr} corrErr={botCorrErr} fit={botFit} />
      <StudyPanel
        left={470} top={0} height={340} side="left" xDomain={[-240, 9510]} band={topBand} areas={topAreas}
        her={[...topFringeHer, ...tmHer]} ler={[...topFringeLer, ...tmLer]} lumi={[...topFringeLumi, ...tmLumi]}
      />
      <StudyPanel
        left={937} top={0} height={340} side="right" xDomain={[-185, 9510]} band={topBand} areas={topAreas}
        her={[...topFringeHer, ...trHer]} ler={[...topFringeLer, ...trLer]} lumi={[...topFringeLumi, ...trLumi]}
      />
      <StudyPanel
        left={470} top={370} height={341} side="left" xDomain={[-240, 9510]} band={botBand} areas={botAreas}
        her={[...botFringeHer, ...bmHer]} ler={[...botFringeLer, ...bmLer]} lumi={[...botFringeLumi, ...bmLumi]}
      />
      <StudyPanel
        left={937} top={370} height={341} side="right" xDomain={[-185, 9510]} band={botBand} areas={botAreas}
        her={[...botFringeHer, ...brHer]} ler={[...botFringeLer, ...brLer]} lumi={[...botFringeLumi, ...brLumi]}
      />
      <Overlay />
    </div>
  );
}
